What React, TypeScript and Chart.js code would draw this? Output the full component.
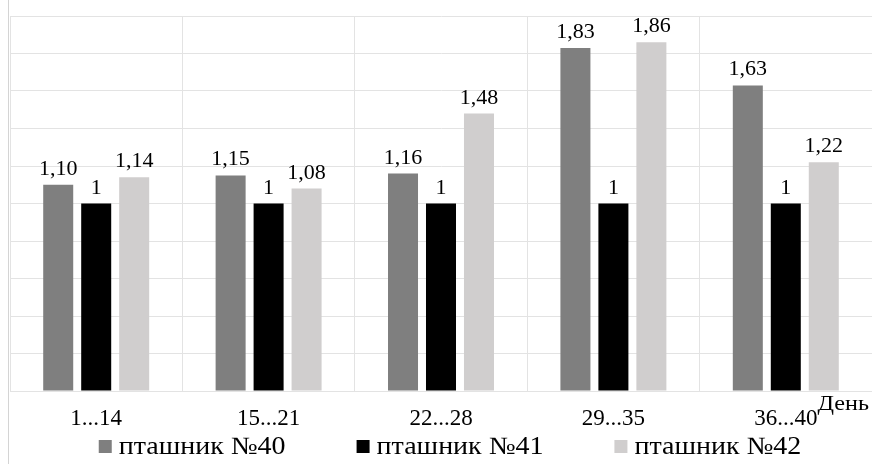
import React, { useEffect, useRef } from "react";
import { Chart, registerables } from "chart.js";

Chart.register(...registerables);

const categories = ["1...14", "15...21", "22...28", "29...35", "36...40"];
const seriesNames = ["пташник №40", "пташник №41", "пташник №42"];
const valuesP40 = [1.1, 1.15, 1.16, 1.83, 1.63];
const valuesP41 = [1, 1, 1, 1, 1];
const valuesP42 = [1.14, 1.08, 1.48, 1.86, 1.22];
const seriesColors = ["#7f7f7f", "#000000", "#d0cece"];
const axisTitle = "День";

const SERIF = '"Liberation Serif", serif';
const GRID = "#e3e3e3";

const fmt = (v: number) => (v === 1 ? "1" : v.toFixed(2).replace(".", ","));

const extras = {
  id: "extras",
  afterDatasetsDraw(chart: any) {
    const { ctx } = chart;
    ctx.save();
    // value labels above the bars
    ctx.font = `22px ${SERIF}`;
    ctx.fillStyle = "#000";
    ctx.textAlign = "center";
    ctx.textBaseline = "alphabetic";
    chart.data.datasets.forEach((ds: any, i: number) => {
      const meta = chart.getDatasetMeta(i);
      meta.data.forEach((bar: any, j: number) => {
        ctx.fillText(fmt(ds.data[j]), bar.x, bar.y - 10);
      });
    });
    ctx.restore();
  },
  afterDraw(chart: any) {
    const { ctx, chartArea, width, height } = chart;
    ctx.save();
    // frame line on the left
    ctx.strokeStyle = "#d4d4d4";
    ctx.lineWidth = 1;
    ctx.beginPath();
    ctx.moveTo(8.5, 0);
    ctx.lineTo(8.5, height);
    ctx.stroke();

    // axis caption, slightly widened serif
    ctx.font = `22px ${SERIF}`;
    ctx.fillStyle = "#000";
    ctx.textAlign = "right";
    ctx.textBaseline = "alphabetic";
    ctx.save();
    ctx.translate(width - 3, chartArea.bottom + 19);
    ctx.scale(1.1, 1);
    ctx.fillText(axisTitle, 0, 0);
    ctx.restore();

    // legend
    const stretch = 1.12;
    ctx.font = `25px ${SERIF}`;
    const box = 13;
    const gapBox = 7;
    const gapItem = 71;
    const items = chart.data.datasets.map((ds: any) => {
      const tw = ctx.measureText(ds.label).width * stretch;
      return { label: ds.label, color: ds.backgroundColor, w: box + gapBox + tw };
    });
    const total =
      items.reduce((s: number, it: any) => s + it.w, 0) + gapItem * (items.length - 1);
    let x = 450 - total / 2;
    const baseY = 454;
    ctx.textAlign = "left";
    items.forEach((it: any) => {
      ctx.fillStyle = it.color;
      ctx.fillRect(x, baseY - 14, box, box);
      ctx.fillStyle = "#000";
      ctx.save();
      ctx.translate(x + box + gapBox, baseY);
      ctx.scale(stretch, 1);
      ctx.fillText(it.label, 0, 0);
      ctx.restore();
      x += it.w + gapItem;
    });
    ctx.restore();
  },
};

export default function App() {
  const ref = useRef<HTMLCanvasElement | null>(null);

  useEffect(() => {
    if (!ref.current) return;
    Chart.defaults.font.family = SERIF;
    const chart = new Chart(ref.current, {
      type: "bar",
      data: {
        labels: categories,
        datasets: [valuesP40, valuesP41, valuesP42].map((d, i) => ({
          label: seriesNames[i],
          data: d,
          backgroundColor: seriesColors[i],
          borderWidth: 0,
          categoryPercentage: 0.661,
          barPercentage: 0.79,
        })),
      },
      options: {
        animation: false,
        responsive: false,
        maintainAspectRatio: false,
        layout: { padding: { left: 10, right: 0, top: 16, bottom: 23 } },
        plugins: {
          legend: { display: false },
          tooltip: { enabled: false },
        },
        scales: {
          x: {
            grid: { color: GRID, offset: true, drawTicks: false },
            border: { color: GRID },
            ticks: {
              color: "#000",
              font: { family: SERIF, size: 23 },
              padding: 14,
              maxRotation: 0,
            },
            afterFit: (scale: any) => {
              scale.height = 50;
            },
          },
          y: {
            min: 0,
            max: 2,
            grid: { color: GRID, drawTicks: false },
            border: { color: GRID },
            ticks: { display: false, stepSize: 0.2 },
          },
        },
      },
      plugins: [extras],
    });
    return () => chart.destroy();
  }, []);

  return (
    <div style={{ position: "absolute", left: 0, top: 0, width: 872, height: 464, background: "#fff" }}>
      <canvas ref={ref} width={872} height={464} style={{ display: "block", width: 872, height: 464 }} />
    </div>
  );
}
